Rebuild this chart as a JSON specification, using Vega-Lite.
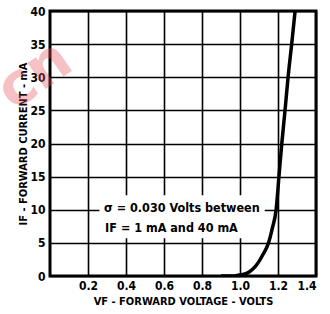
{
  "$schema": "https://vega.github.io/schema/vega-lite/v6.json",
  "width": 266,
  "height": 265,
  "autosize": "none",
  "padding": {"left": 50, "top": 11, "right": 14, "bottom": 38},
  "background": "white",
  "config": {
    "view": {"stroke": "black", "strokeWidth": 3},
    "font": "DejaVu Sans Condensed",
    "axis": {
      "domain": false,
      "ticks": false,
      "grid": true,
      "gridColor": "black",
      "gridWidth": 1.6,
      "gridOpacity": 1,
      "labelOverlap": false,
      "labelFont": "DejaVu Sans Condensed",
      "labelFontWeight": "bold",
      "labelFontSize": 12,
      "labelColor": "black",
      "titleFont": "DejaVu Sans Condensed",
      "titleFontWeight": "bold",
      "titleFontSize": 11,
      "titleColor": "black"
    }
  },
  "datasets": {
    "curve": [
      {"v": 0.9, "i": 0},
      {"v": 0.95, "i": 0},
      {"v": 0.98, "i": 0.05},
      {"v": 1.0, "i": 0.15},
      {"v": 1.03, "i": 0.35},
      {"v": 1.05, "i": 0.65},
      {"v": 1.08, "i": 1.4},
      {"v": 1.1, "i": 2.2},
      {"v": 1.12, "i": 3.2},
      {"v": 1.15, "i": 5},
      {"v": 1.17, "i": 7.2},
      {"v": 1.19, "i": 10},
      {"v": 1.205, "i": 15},
      {"v": 1.22, "i": 20},
      {"v": 1.237, "i": 25},
      {"v": 1.253, "i": 30},
      {"v": 1.272, "i": 35},
      {"v": 1.29, "i": 40}
    ],
    "box": [{"v": 0.26, "v2": 1.13, "i": 5.7, "i2": 12.2}],
    "notes": [
      {"v": 0.284, "i": 10.3, "t": "σ = 0.030 Volts between"},
      {"v": 0.29, "i": 7.2, "t": "IF = 1 mA and 40 mA"}
    ],
    "wm": [{"v": -0.08, "i": 30.2, "t": "cn"}]
  },
  "encoding": {
    "x": {"field": "v", "type": "quantitative", "scale": {"domain": [0, 1.4], "nice": false, "zero": false},
      "axis": {"values": [0.2, 0.4, 0.6, 0.8, 1.0, 1.2, 1.4], "format": ".1f", "title": "VF - FORWARD VOLTAGE - VOLTS", "labelPadding": 4, "titlePadding": 4}},
    "y": {"field": "i", "type": "quantitative", "scale": {"domain": [0, 40], "nice": false, "zero": false},
      "axis": {"values": [0, 5, 10, 15, 20, 25, 30, 35, 40], "title": "IF - FORWARD CURRENT - mA", "labelPadding": 5, "titlePadding": 1}}
  },
  "layer": [
    {
      "data": {"name": "box"},
      "mark": {"type": "rect", "fill": "white", "stroke": null},
      "encoding": {
        "x2": {"field": "v2"},
        "y2": {"field": "i2"}
      }
    },
    {
      "data": {"name": "curve"},
      "mark": {"type": "line", "color": "black", "strokeWidth": 3.5, "interpolate": "monotone", "clip": true},
      "encoding": {}
    },
    {
      "data": {"name": "notes"},
      "mark": {"type": "text", "align": "left", "baseline": "middle", "fontSize": 12.5, "fontWeight": "bold", "color": "black"},
      "encoding": {
        "text": {"field": "t"}
      }
    },
    {
      "data": {"name": "wm"},
      "mark": {"type": "text", "align": "center", "baseline": "middle", "fontSize": 58, "fontWeight": "bold", "color": "#e8505a", "opacity": 0.35, "angle": 325, "font": "DejaVu Sans", "clip": false},
      "encoding": {
        "text": {"field": "t"}
      }
    }
  ]
}
